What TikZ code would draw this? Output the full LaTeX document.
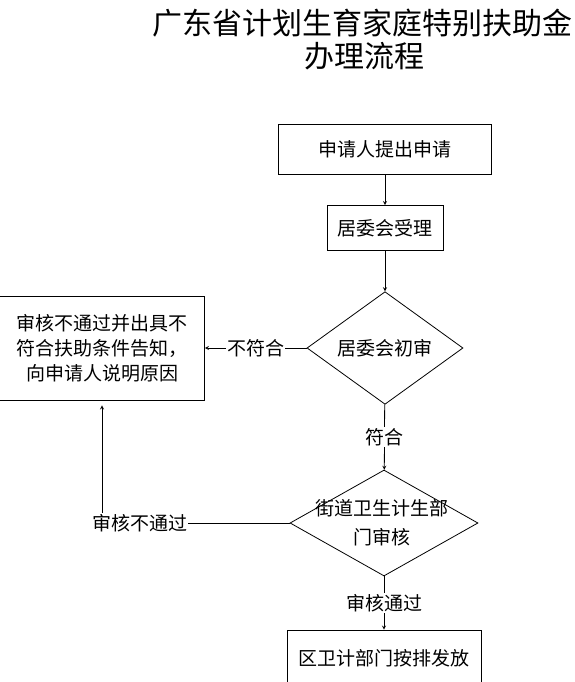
\documentclass[tikz,border=0pt]{standalone}
\usepackage{fontspec}
\setmainfont{Noto Sans CJK SC}
\usetikzlibrary{shapes.geometric}
\begin{document}
\begin{tikzpicture}
         [x=1pt, y=-1pt, line width=0.8pt, font=\fontsize{19}{25}\selectfont,
          box node/.style={rectangle,draw,inner sep=0pt},
          check node/.style={diamond,draw,inner sep=0pt},
          tag node/.style={fill=white,inner sep=1pt},
          title node/.style={font=\fontsize{30}{34}\selectfont}]
         \useasboundingbox (0,0) rectangle (575,682);
         \clip (0,0) rectangle (575,682);
         \node[title node] (title) at (362,23) {广东省计划生育家庭特别扶助金};
         \node[title node] (subtitle) at (364,56) {办理流程};
         \node[box node, minimum width=213pt, minimum height=50pt] (apply) at (385,149) {申请人提出申请};
         \node[box node, minimum width=116pt, minimum height=45pt] (accept) at (385,228) {居委会受理};
         \node[check node, minimum width=156pt, minimum height=104pt] (check1) at (385,348) {居委会初审};
         \node[box node, minimum width=205pt, minimum height=104pt, align=center] (reject) at (102,348) {审核不通过并出具不\\符合扶助条件告知，\\向申请人说明原因};
         \node[check node, minimum width=188pt, minimum height=106pt] (check2) at (384,523) {};
         \node[align=center, font=\fontsize{19}{29}\selectfont] (check2text) at (382,523) {街道卫生计生部\\门审核};
         \node[box node, minimum width=194pt, minimum height=56pt] (issue) at (384,658) {区卫计部门按排发放};

         
         \draw[-stealth] (apply) -- (accept);
         \draw[-stealth] (accept) -- (check1);
         \draw[-stealth] (check1) -- node[tag node] {不符合} (reject);
         \draw[-stealth] (check1) -- node[tag node] {符合} (check2);
         \draw[-stealth, shorten >=5pt] (check2.west) -| node[tag node, pos=0.4] {审核不通过} (reject.south);
         \draw[-stealth] (check2) -- node[tag node] {审核通过} (issue);
      \end{tikzpicture}
\end{document}
